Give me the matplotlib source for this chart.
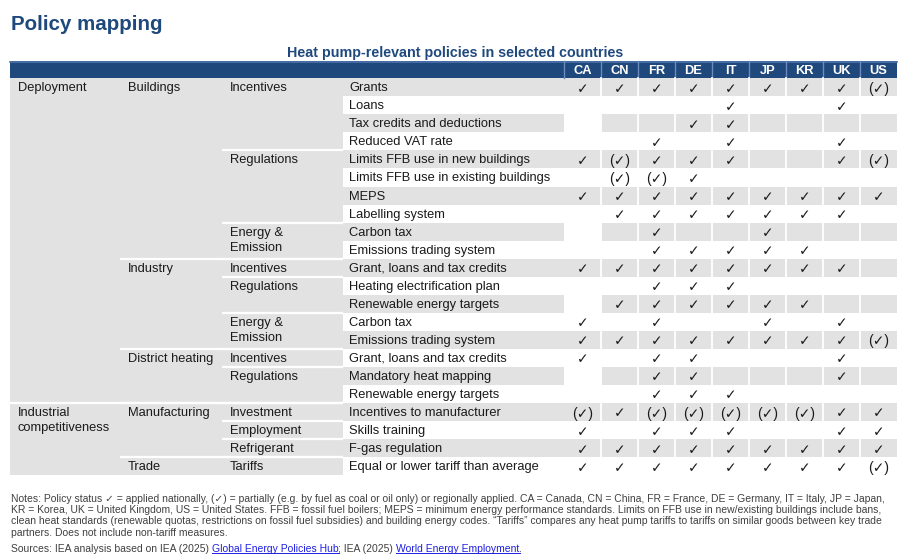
import matplotlib
matplotlib.use("Agg")
import matplotlib.pyplot as plt
from matplotlib.patches import Rectangle
import numpy as np

# ---- data -------------------------------------------------------------
TITLE = "Policy mapping"
SUBTITLE = "Heat pump-relevant policies in selected countries"

COUNTRIES = ["CA", "CN", "FR", "DE", "IT", "JP", "KR", "UK", "US"]

POLICIES = [
    "Grants",
    "Loans",
    "Tax credits and deductions",
    "Reduced VAT rate",
    "Limits FFB use in new buildings",
    "Limits FFB use in existing buildings",
    "MEPS",
    "Labelling system",
    "Carbon tax",
    "Emissions trading system",
    "Grant, loans and tax credits",
    "Heating electrification plan",
    "Renewable energy targets",
    "Carbon tax",
    "Emissions trading system",
    "Grant, loans and tax credits",
    "Mandatory heat mapping",
    "Renewable energy targets",
    "Incentives to manufacturer",
    "Skills training",
    "F-gas regulation",
    "Equal or lower tariff than average",
]

# Y = applied nationally, P = partially / regionally, . = none
STATUS = [
    "YYYYYYYYP",
    "....Y..Y.",
    "...YY....",
    "..Y.Y..Y.",
    "YPYYY..YP",
    ".PPY.....",
    "YYYYYYYYY",
    ".YYYYYYY.",
    "..Y..Y...",
    "..YYYYY..",
    "YYYYYYYY.",
    "..YYY....",
    ".YYYYYY..",
    "Y.Y..Y.Y.",
    "YYYYYYYYP",
    "Y.YY...Y.",
    "..YY...Y.",
    "..YYY....",
    "PYPPPPPYY",
    "Y.YYY..YY",
    "YYYYYYYYY",
    "YYYYYYYYP",
]

# (first row, label) for the three grouping columns
LEVEL1 = [(0, "Deployment"), (18, "Industrial\ncompetitiveness")]
LEVEL2 = [(0, "Buildings"), (10, "Industry"), (15, "District heating"),
          (18, "Manufacturing"), (21, "Trade")]
LEVEL3 = [(0, "Incentives"), (4, "Regulations"), (8, "Energy &\nEmission"),
          (10, "Incentives"), (11, "Regulations"), (13, "Energy &\nEmission"),
          (15, "Incentives"), (16, "Regulations"), (18, "Investment"),
          (19, "Employment"), (20, "Refrigerant"), (21, "Tariffs")]

NOTES = [
    "Notes: Policy status \u2713 = applied nationally, (\u2713) = partially (e.g. by fuel as coal or oil only) "
    "or regionally applied. CA = Canada, CN = China, FR = France, DE = Germany, IT = Italy, JP = Japan,",
    "KR = Korea, UK = United Kingdom, US = United States. FFB = fossil fuel boilers; MEPS = minimum energy "
    "performance standards. Limits on FFB use in new/existing buildings include bans,",
    "clean heat standards (renewable quotas, restrictions on fossil fuel subsidies) and building energy codes. "
    "\u201cTariffs\u201d compares any heat pump tariffs to tariffs on similar goods between key trade",
    "partners. Does not include non-tariff measures.",
]
SOURCES = [
    ("Sources: IEA analysis based on IEA (2025) ", False),
    ("Global Energy Policies Hub", True),
    ("; IEA (2025) ", False),
    ("World Energy Employment", True),
    (".", False),
]

# ---- style ------------------------------------------------------------
BLUE = "#1F497D"
GRAY = "#E2E2E2"
TEXT = "#1A1A1A"
FONT = ["Liberation Sans", "DejaVu Sans"]

W, H = 902, 557
TABLE_L, TABLE_R = 10, 897
HEAD_TOP, ROW_TOP, ROW_H = 61, 78.2, 18.05
COL2_X, COL3_X, POL_X = 120, 222, 343
COUNTRY_EDGES = np.linspace(564, TABLE_R, len(COUNTRIES) + 1)


def row_y(i):
    return ROW_TOP + i * ROW_H


def draw_group_labels(ax, groups, x_text, x_line):
    for start, label in groups:
        if start > 0:
            ax.plot([x_line, POL_X], [row_y(start)] * 2, color="white", lw=1.6,
                    solid_capstyle="butt", zorder=3)
        for k, line in enumerate(label.split("\n")):
            ax.text(x_text, row_y(start) + ROW_H / 2 + 1 + k * 15, line, fontsize=9.3,
                    family=FONT, color=TEXT, va="center", ha="left", zorder=4)


def text_width(ax, renderer, s, **kw):
    # width of s including trailing spaces (measured against a marker glyph)
    t1 = ax.text(0, 0, s + "x", **kw)
    t2 = ax.text(0, 0, "x", **kw)
    w = t1.get_window_extent(renderer).width - t2.get_window_extent(renderer).width
    t1.remove()
    t2.remove()
    return w


def main():
    fig = plt.figure(figsize=(W / 100, H / 100), dpi=100)
    ax = fig.add_axes([0, 0, 1, 1])
    ax.set_xlim(0, W)
    ax.set_ylim(H, 0)
    ax.axis("off")

    ax.text(11, 24, TITLE, fontsize=14.8, fontweight="bold",
            color=BLUE, family=FONT, va="center", ha="left")
    ax.text(455, 52.5, SUBTITLE, fontsize=10.3, fontweight="bold", color=BLUE,
            family=FONT, va="center", ha="center")

    n = len(POLICIES)
    # header bar
    ax.add_patch(Rectangle((TABLE_L, HEAD_TOP), TABLE_R - TABLE_L, ROW_TOP - HEAD_TOP,
                           facecolor=BLUE, edgecolor="none", zorder=1))
    ax.plot([TABLE_L, TABLE_R], [HEAD_TOP + 0.5] * 2, color="#4F74AD", lw=1.2, zorder=2)
    for x in COUNTRY_EDGES[:-1]:
        ax.plot([x, x], [HEAD_TOP, ROW_TOP], color="#6A8AC0", lw=1.0, zorder=2)
    for j, c in enumerate(COUNTRIES):
        cx = (COUNTRY_EDGES[j] + COUNTRY_EDGES[j + 1]) / 2
        ax.text(cx, (HEAD_TOP + ROW_TOP) / 2 + 1, c, fontsize=9.3, fontweight="bold",
                color="white", family=FONT, ha="center", va="center", zorder=3)

    # grey block behind the grouping columns
    ax.add_patch(Rectangle((TABLE_L, row_y(0)), POL_X - TABLE_L, n * ROW_H,
                           facecolor=GRAY, edgecolor="none", zorder=1))

    for i, (policy, status) in enumerate(zip(POLICIES, STATUS)):
        y0 = row_y(i)
        yc = y0 + ROW_H / 2
        if i % 2 == 0:
            ax.add_patch(Rectangle((POL_X, y0), COUNTRY_EDGES[0] - POL_X, ROW_H,
                                   facecolor=GRAY, edgecolor="none", zorder=1))
            for j, s in enumerate(status):
                if j == 0 and s == ".":
                    continue
                ax.add_patch(Rectangle((COUNTRY_EDGES[j], y0),
                                       COUNTRY_EDGES[j + 1] - COUNTRY_EDGES[j], ROW_H,
                                       facecolor=GRAY, edgecolor="none", zorder=1))
            for x in COUNTRY_EDGES[1:-1]:
                ax.plot([x, x], [y0, y0 + ROW_H], color="white", lw=1.3, zorder=2)
        ax.text(POL_X + 6, yc + 1, policy, fontsize=9.3, family=FONT, color=TEXT,
                va="center", ha="left", zorder=4)
        for j, s in enumerate(status):
            if s == ".":
                continue
            cx = (COUNTRY_EDGES[j] + COUNTRY_EDGES[j + 1]) / 2
            mark = "\u2713" if s == "Y" else "(\u2713)"
            ax.text(cx, yc + 1.5, mark, fontsize=10, family=FONT, color=TEXT,
                    va="center", ha="center", zorder=4)

    draw_group_labels(ax, LEVEL3, 230, COL3_X)
    draw_group_labels(ax, LEVEL2, 128, COL2_X)
    draw_group_labels(ax, LEVEL1, 18, TABLE_L)

    # notes
    note_kw = dict(fontsize=7.5, family=FONT, color="#404040", zorder=4)
    for k, line in enumerate(NOTES):
        ax.text(11, 498.5 + k * 11.5, line, va="center", ha="left", **note_kw)

    renderer = fig.canvas.get_renderer()
    x = 11
    base = 552
    for seg, link in SOURCES:
        color = "#1F1FE0" if link else "#404040"
        ax.text(x, base, seg, va="baseline", ha="left",
                **{**note_kw, "color": color})
        w = text_width(ax, renderer, seg, **note_kw)
        if link:
            ax.plot([x, x + w], [base + 1.3] * 2, color=color, lw=0.7, zorder=4)
        x += w

    fig.savefig("out.png", dpi=100)
    plt.close(fig)


if __name__ == "__main__":
    main()
